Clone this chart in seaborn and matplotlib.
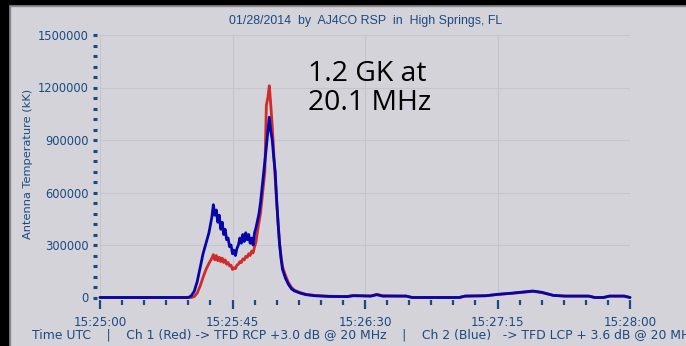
import matplotlib
matplotlib.use("Agg")
import matplotlib.pyplot as plt
from matplotlib.patches import Rectangle
from matplotlib.ticker import (MultipleLocator, FixedLocator, FixedFormatter,
                               StrMethodFormatter)
import seaborn as sns
import pandas as pd

# Seconds after 15:25:00 UTC
seconds = [
    0, 30, 31, 32, 33, 34, 35, 36, 37, 38, 38.5, 39, 39.5, 40, 40.5, 41, 41.5,
    42, 42.5, 43, 43.5, 44, 44.5, 45, 45.5, 46, 46.5, 47, 47.5, 48, 48.5, 49,
    49.5, 50, 50.5, 51, 51.5, 52, 52.5, 53, 53.5, 54, 54.5, 55, 55.5, 56, 56.5,
    57, 57.5, 58, 58.5, 59, 59.5, 60, 60.5, 61, 61.5, 62, 63, 64, 65, 66, 68,
    70, 73, 78, 84, 86, 92, 94, 96, 104, 106, 122, 124, 131, 135, 140, 144,
    147, 150, 154, 158, 166, 168, 171, 173, 178, 180,
]

# Ch 1 (Red) -> TFD RCP, antenna temperature in kK
rcp_temp = [
    0, 0, 0, 5000, 25000, 65000, 115000, 160000, 195000, 225000, 245000,
    215000, 240000, 210000, 230000, 205000, 225000, 200000, 215000, 190000,
    200000, 180000, 185000, 160000, 170000, 165000, 185000, 190000, 205000,
    200000, 220000, 215000, 235000, 230000, 250000, 240000, 265000, 255000,
    290000, 320000, 380000, 430000, 480000, 560000, 640000, 720000, 1100000,
    1140000, 1210000, 1100000, 980000, 830000, 680000, 540000, 420000, 310000,
    235000, 175000, 125000, 85000, 58000, 42000, 28000, 18000, 12000, 7000,
    6000, 12000, 9000, 18000, 10000, 8000, 0, 0, 8000, 10000, 17000, 24000,
    30000, 35000, 28000, 12000, 8000, 8000, 0, 0, 8000, 8000, 0,
]

# Ch 2 (Blue) -> TFD LCP, antenna temperature in kK
lcp_temp = [
    0, 0, 10000, 35000, 90000, 170000, 250000, 310000, 370000, 460000, 530000,
    470000, 500000, 430000, 470000, 390000, 430000, 360000, 390000, 330000,
    340000, 290000, 300000, 250000, 270000, 240000, 280000, 300000, 340000,
    310000, 360000, 320000, 370000, 330000, 360000, 310000, 340000, 300000,
    370000, 400000, 440000, 480000, 540000, 620000, 700000, 780000, 860000,
    950000, 1030000, 950000, 900000, 800000, 720000, 560000, 420000, 300000,
    220000, 160000, 110000, 75000, 50000, 38000, 25000, 16000, 10000, 6000,
    5000, 10000, 8000, 16000, 8000, 8000, 0, 0, 8000, 10000, 18000, 25000,
    32000, 37000, 30000, 12000, 8000, 8000, 0, 0, 8000, 8000, 0,
]

x_tick_seconds = [0, 45, 90, 135, 180]
x_tick_labels = ["15:25:00", "15:25:45", "15:26:30", "15:27:15", "15:28:00"]

channels = ["Ch 1 (Red)", "Ch 2 (Blue)"]
channel_colors = {"Ch 1 (Red)": "#cf2b2b", "Ch 2 (Blue)": "#0505aa"}

BG = "#d3d3d9"
GRID = "#c5c5cd"
NAVY = "#1b4a82"

sns.set_style("white", rc={"axes.facecolor": BG, "figure.facecolor": BG})
plt.rcParams["font.family"] = ["DejaVu Sans"]

df = pd.DataFrame({
    "seconds": seconds * 2,
    "temp": rcp_temp + lcp_temp,
    "channel": [channels[0]] * len(seconds) + [channels[1]] * len(seconds),
})

W, H = 686, 346
fig = plt.figure(figsize=(W / 100, H / 100), dpi=100)
ax = fig.add_axes([100 / W, 1 - 297.5 / H, 530 / W, 262.5 / H])

sns.lineplot(data=df, x="seconds", y="temp", hue="channel",
             hue_order=channels, palette=channel_colors,
             estimator=None, sort=False, linewidth=2.0, legend=False,
             ax=ax, clip_on=False)

ax.set_xlim(0, 180)
ax.set_ylim(0, 1500000)

ax.set_axisbelow(True)
ax.xaxis.set_major_locator(FixedLocator(x_tick_seconds))
ax.xaxis.set_major_formatter(FixedFormatter(x_tick_labels))
ax.xaxis.set_minor_locator(MultipleLocator(7.5))
ax.yaxis.set_major_locator(MultipleLocator(300000))
ax.yaxis.set_major_formatter(StrMethodFormatter("{x:.0f}"))
ax.yaxis.set_minor_locator(MultipleLocator(60000))
ax.grid(True, which="major", color=GRID, linewidth=0.8)

for side in ["top", "right", "left", "bottom"]:
    ax.spines[side].set_visible(False)
ax.spines["left"].set_position(("outward", 2.3))
ax.spines["bottom"].set_position(("outward", 1.5))

ax.tick_params(axis="y", which="both", direction="out", length=3, width=2.2,
               color=NAVY, labelcolor=NAVY, labelsize=8.3, pad=3, left=True)
ax.tick_params(axis="x", which="major", direction="out", length=6.5, width=1.6,
               color=NAVY, labelcolor=NAVY, labelsize=8.6, pad=5, bottom=True)
ax.tick_params(axis="x", which="minor", direction="out", length=3.8, width=1.6,
               color=NAVY, bottom=True)

ax.set_xlabel("")
ax.set_ylabel("Antenna Temperature (kK)", color=NAVY, fontsize=8.2)
ax.yaxis.set_label_coords(33 / W, 1 - 164 / H, transform=fig.transFigure)

fig.text(366 / W, 1 - 21 / H, "01/28/2014  by  AJ4CO RSP  in  High Springs, FL",
         ha="center", va="center", color=NAVY, fontsize=8.9,
         family=["Liberation Sans", "DejaVu Sans"])

fig.text(32 / W, 1 - 335 / H,
         "Time UTC    |    Ch 1 (Red) -> TFD RCP +3.0 dB @ 20 MHz    |    "
         "Ch 2 (Blue)   -> TFD LCP + 3.6 dB @ 20 MHz",
         ha="left", va="center", color=NAVY, fontsize=8.95)

fig.text(308 / W, 1 - 60 / H, "1.2 GK at\n20.1 MHz",
         ha="left", va="top", color="black", fontsize=20.4, linespacing=1.05,
         family=["Open Sans", "DejaVu Sans"])

# window frame
fig.patches.append(Rectangle((0, 1 - 4 / H), 1, 4 / H, transform=fig.transFigure,
                             color="black", zorder=10))
fig.patches.append(Rectangle((0, 1 - 6 / H), 1, 2 / H, transform=fig.transFigure,
                             color="#8c8c90", zorder=9))
fig.patches.append(Rectangle((0, 0), 8 / W, 1, transform=fig.transFigure,
                             color="black", zorder=10))
fig.patches.append(Rectangle((8 / W, 0), 2 / W, 1 - 4 / H, transform=fig.transFigure,
                             color="#8c8c90", zorder=9))

fig.savefig("out.png", dpi=100, facecolor=BG)
